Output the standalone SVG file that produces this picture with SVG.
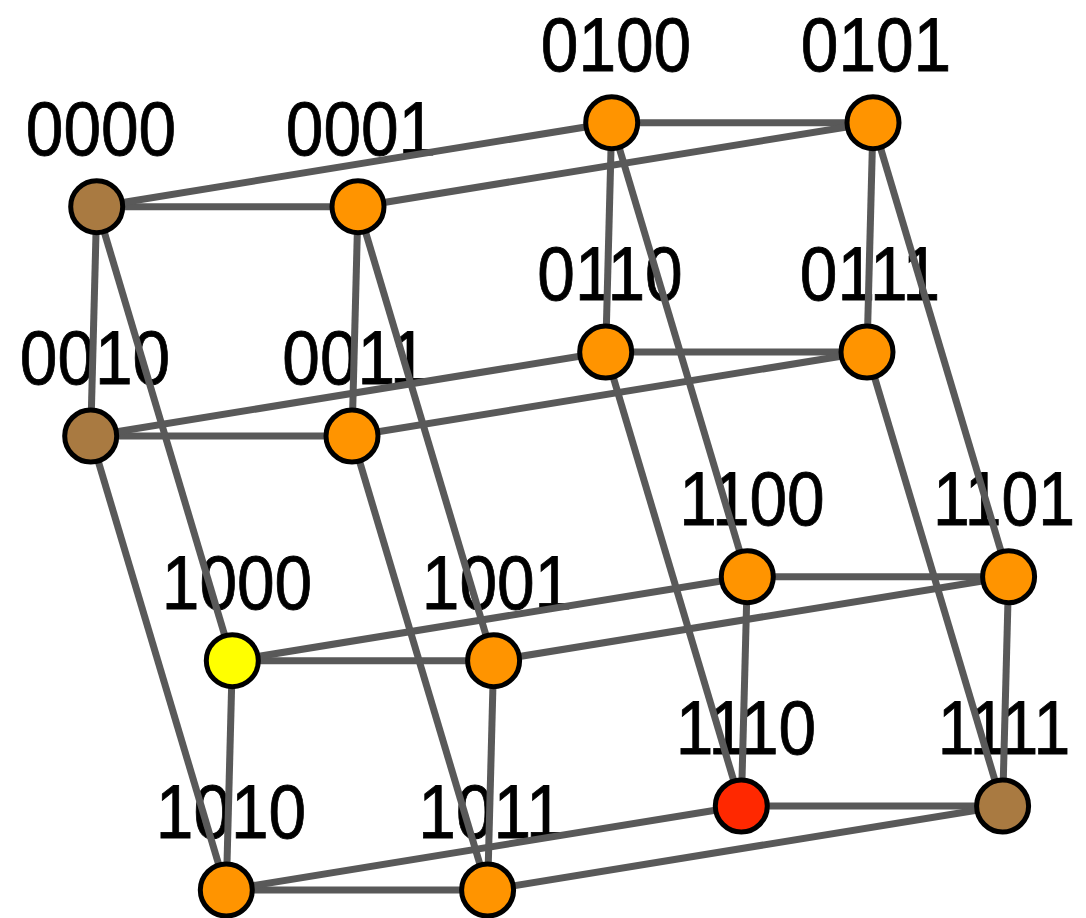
<svg xmlns="http://www.w3.org/2000/svg" width="1086" height="918" viewBox="0 0 1086 918">
<style>
.lbl{font-family:"Liberation Sans",Arial,sans-serif;font-size:76px;fill:#000;stroke:#000;stroke-width:0.8;text-anchor:middle}
.e{stroke:#595959;stroke-width:7;fill:none}
.n{stroke:#000;stroke-width:5}
.brown{fill:#A97A41}
.orange{fill:#FF9400}
.yellow{fill:#FFFF00}
.red{fill:#FF2800}
</style>
<rect width="1086" height="918" fill="#fff"/>
<g id="labels">
<text id="label-0000" class="lbl" transform="translate(101,154.7) scale(0.89,1)">0000</text>
<text id="label-0001" class="lbl" transform="translate(361,154.7) scale(0.89,1)">0001</text>
<text id="label-0010" class="lbl" transform="translate(95,384) scale(0.89,1)">0010</text>
<text id="label-0011" class="lbl" transform="translate(355,384) scale(0.89,1)">0011</text>
<text id="label-0100" class="lbl" transform="translate(616,70.7) scale(0.89,1)">0100</text>
<text id="label-0101" class="lbl" transform="translate(876,70.7) scale(0.89,1)">0101</text>
<text id="label-0110" class="lbl" transform="translate(610,300) scale(0.89,1)">0110</text>
<text id="label-0111" class="lbl" transform="translate(870,300) scale(0.89,1)">0111</text>
<text id="label-1000" class="lbl" transform="translate(237,608.7) scale(0.89,1)">1000</text>
<text id="label-1001" class="lbl" transform="translate(497,608.7) scale(0.89,1)">1001</text>
<text id="label-1010" class="lbl" transform="translate(231,838) scale(0.89,1)">1010</text>
<text id="label-1011" class="lbl" transform="translate(491,838) scale(0.89,1)">1011</text>
<text id="label-1100" class="lbl" transform="translate(752,524.7) scale(0.89,1)">1100</text>
<text id="label-1101" class="lbl" transform="translate(1004,524.7) scale(0.87,1)">1101</text>
<text id="label-1110" class="lbl" transform="translate(746,754) scale(0.89,1)">1110</text>
<text id="label-1111" class="lbl" transform="translate(1004,754) scale(0.87,1)">1111</text>
</g>
<g id="edges">
<!-- bit 0 -->
<line class="e" x1="96.7" y1="206.7" x2="358" y2="206.7"/>
<line class="e" x1="90.7" y1="436" x2="352" y2="436"/>
<line class="e" x1="611.7" y1="122.7" x2="873" y2="122.7"/>
<line class="e" x1="605.7" y1="352" x2="867" y2="352"/>
<line class="e" x1="232.3" y1="660.7" x2="493.6" y2="660.7"/>
<line class="e" x1="226.3" y1="890" x2="487.6" y2="890"/>
<line class="e" x1="747.3" y1="576.7" x2="1008.6" y2="576.7"/>
<line class="e" x1="741.3" y1="806" x2="1002.6" y2="806"/>
<!-- bit 1 -->
<line class="e" x1="96.7" y1="206.7" x2="90.7" y2="436"/>
<line class="e" x1="358" y1="206.7" x2="352" y2="436"/>
<line class="e" x1="611.7" y1="122.7" x2="605.7" y2="352"/>
<line class="e" x1="873" y1="122.7" x2="867" y2="352"/>
<line class="e" x1="232.3" y1="660.7" x2="226.3" y2="890"/>
<line class="e" x1="493.6" y1="660.7" x2="487.6" y2="890"/>
<line class="e" x1="747.3" y1="576.7" x2="741.3" y2="806"/>
<line class="e" x1="1008.6" y1="576.7" x2="1002.6" y2="806"/>
<!-- bit 2 -->
<line class="e" x1="96.7" y1="206.7" x2="611.7" y2="122.7"/>
<line class="e" x1="358" y1="206.7" x2="873" y2="122.7"/>
<line class="e" x1="90.7" y1="436" x2="605.7" y2="352"/>
<line class="e" x1="352" y1="436" x2="867" y2="352"/>
<line class="e" x1="232.3" y1="660.7" x2="747.3" y2="576.7"/>
<line class="e" x1="493.6" y1="660.7" x2="1008.6" y2="576.7"/>
<line class="e" x1="226.3" y1="890" x2="741.3" y2="806"/>
<line class="e" x1="487.6" y1="890" x2="1002.6" y2="806"/>
<!-- bit 3 -->
<line class="e" x1="96.7" y1="206.7" x2="232.3" y2="660.7"/>
<line class="e" x1="358" y1="206.7" x2="493.6" y2="660.7"/>
<line class="e" x1="90.7" y1="436" x2="226.3" y2="890"/>
<line class="e" x1="352" y1="436" x2="487.6" y2="890"/>
<line class="e" x1="611.7" y1="122.7" x2="747.3" y2="576.7"/>
<line class="e" x1="873" y1="122.7" x2="1008.6" y2="576.7"/>
<line class="e" x1="605.7" y1="352" x2="741.3" y2="806"/>
<line class="e" x1="867" y1="352" x2="1002.6" y2="806"/>
</g>
<g id="node-0000"><circle class="n brown" cx="96.7" cy="206.7" r="26"/></g>
<g id="node-0001"><circle class="n orange" cx="358" cy="206.7" r="26"/></g>
<g id="node-0010"><circle class="n brown" cx="90.7" cy="436" r="26"/></g>
<g id="node-0011"><circle class="n orange" cx="352" cy="436" r="26"/></g>
<g id="node-0100"><circle class="n orange" cx="611.7" cy="122.7" r="26"/></g>
<g id="node-0101"><circle class="n orange" cx="873" cy="122.7" r="26"/></g>
<g id="node-0110"><circle class="n orange" cx="605.7" cy="352" r="26"/></g>
<g id="node-0111"><circle class="n orange" cx="867" cy="352" r="26"/></g>
<g id="node-1000"><circle class="n yellow" cx="232.3" cy="660.7" r="26"/></g>
<g id="node-1001"><circle class="n orange" cx="493.6" cy="660.7" r="26"/></g>
<g id="node-1010"><circle class="n orange" cx="226.3" cy="890" r="26"/></g>
<g id="node-1011"><circle class="n orange" cx="487.6" cy="890" r="26"/></g>
<g id="node-1100"><circle class="n orange" cx="747.3" cy="576.7" r="26"/></g>
<g id="node-1101"><circle class="n orange" cx="1008.6" cy="576.7" r="26"/></g>
<g id="node-1110"><circle class="n red" cx="741.3" cy="806" r="26"/></g>
<g id="node-1111"><circle class="n brown" cx="1002.6" cy="806" r="26"/></g>
</svg>
